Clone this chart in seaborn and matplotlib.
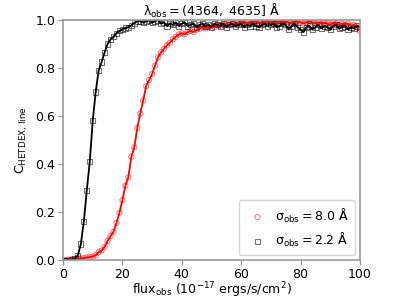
import seaborn as sns
import matplotlib.pyplot as plt

flux = list(range(0, 101))

# completeness for sigma_obs = 2.2 A (black squares)
comp_narrow = [
    0.0, 0.0, 0.0, 0.002, 0.005, 0.02, 0.067, 0.16, 0.29, 0.41,
    0.58, 0.70, 0.79, 0.825, 0.865, 0.90, 0.92, 0.93, 0.945, 0.955,
    0.96, 0.967, 0.97, 0.978, 0.988, 0.995, 0.995, 0.99, 0.995, 0.998,
    0.99, 0.995, 1.0, 0.985, 0.99, 0.975, 0.985, 0.98, 0.99, 0.975,
    0.985, 0.99, 0.975, 0.98, 0.985, 0.97, 0.98, 0.985, 0.975, 0.98,
    0.97, 0.985, 0.98, 0.975, 0.985, 0.97, 0.98, 0.985, 0.975, 0.98,
    0.985, 0.97, 0.98, 0.975, 0.985, 0.975, 0.97, 0.98, 0.985, 0.975,
    0.98, 0.985, 0.97, 0.975, 0.985, 0.98, 0.96, 0.975, 0.985, 0.97,
    0.96, 0.95, 0.97, 0.975, 0.96, 0.97, 0.98, 0.965, 0.975, 0.97,
    0.96, 0.975, 0.98, 0.965, 0.97, 0.975, 0.96, 0.97, 0.965, 0.975,
    0.97,
]

# completeness for sigma_obs = 8.0 A (red circles)
comp_wide = [
    0.0, 0.0, 0.002, 0.003, 0.004, 0.005, 0.007, 0.009, 0.011, 0.013,
    0.015, 0.02, 0.033, 0.04, 0.055, 0.08, 0.10, 0.118, 0.155, 0.197,
    0.25, 0.31, 0.345, 0.43, 0.47, 0.55, 0.61, 0.665, 0.725, 0.75,
    0.775, 0.81, 0.845, 0.865, 0.88, 0.895, 0.905, 0.92, 0.93, 0.94,
    0.945, 0.94, 0.95, 0.955, 0.95, 0.96, 0.965, 0.97, 0.965, 0.97,
    0.975, 0.97, 0.98, 0.975, 0.98, 0.985, 0.98, 0.985, 0.98, 0.985,
    0.99, 0.985, 0.99, 0.985, 0.99, 0.995, 0.99, 0.985, 0.99, 0.995,
    0.99, 0.985, 0.99, 0.995, 0.99, 0.995, 0.99, 0.985, 0.99, 0.995,
    0.99, 0.985, 0.99, 0.995, 0.99, 0.985, 0.99, 0.985, 0.99, 0.985,
    0.98, 0.99, 0.985, 0.98, 0.985, 0.98, 0.985, 0.975, 0.98, 0.97,
    0.955,
]

x_ticks = [0, 20, 40, 60, 80, 100]
y_ticks = [0.0, 0.2, 0.4, 0.6, 0.8, 1.0]

sns.set_style("ticks")
plt.rcParams['font.family'] = ['DejaVu Sans']
plt.rcParams['text.color'] = 'black'
plt.rcParams['axes.labelcolor'] = 'black'
plt.rcParams['xtick.labelcolor'] = 'black'
plt.rcParams['ytick.labelcolor'] = 'black'

fig = plt.figure(figsize=(3.99, 2.99), dpi=100)
ax = fig.add_axes([0.158, 0.130, 0.744, 0.803])

# lines first, markers on top
sns.lineplot(x=flux, y=comp_wide, color='red', lw=1.3, ax=ax)
sns.lineplot(x=flux, y=comp_narrow, color='black', lw=1.3, ax=ax)
sns.scatterplot(x=flux, y=comp_wide, marker='o', s=14, fc='none',
                ec=(1, 0, 0, 0.5), linewidth=0.8, ax=ax,
                label=r'$\mathrm{\sigma_{obs}=8.0\ \AA}$')
sns.scatterplot(x=flux, y=comp_narrow, marker='s', s=14, fc='none',
                ec=(0, 0, 0, 0.55), linewidth=0.8, ax=ax,
                label=r'$\mathrm{\sigma_{obs}=2.2\ \AA}$')

ax.set_xlim(0, 100)
ax.set_ylim(0, 1)
ax.set_xticks(x_ticks)
ax.set_yticks(y_ticks)
ax.set_yticklabels([f"{v:.1f}" for v in y_ticks])
ax.tick_params(labelsize=9, color='#999999', length=3.5, width=1, pad=2)
for s in ax.spines.values():
    s.set_color('#999999')
    s.set_linewidth(1.2)

ax.set_title(r'$\mathrm{\lambda_{obs}=(4364,\ 4635]\ \AA}$', fontsize=9, pad=2)
ax.set_xlabel(r'$\mathrm{flux_{obs}}$ ($10^{-17}$ ergs/s/cm$^2$)', fontsize=9, labelpad=0)
ax.set_ylabel(r'$\mathrm{C_{HETDEX,\,line}}$', fontsize=9, labelpad=4)

ax.legend(loc='lower right', fontsize=9, frameon=True, handletextpad=0.4,
          borderpad=0.5, markerscale=1.0, borderaxespad=0.4)

fig.savefig('out.png', dpi=100)
